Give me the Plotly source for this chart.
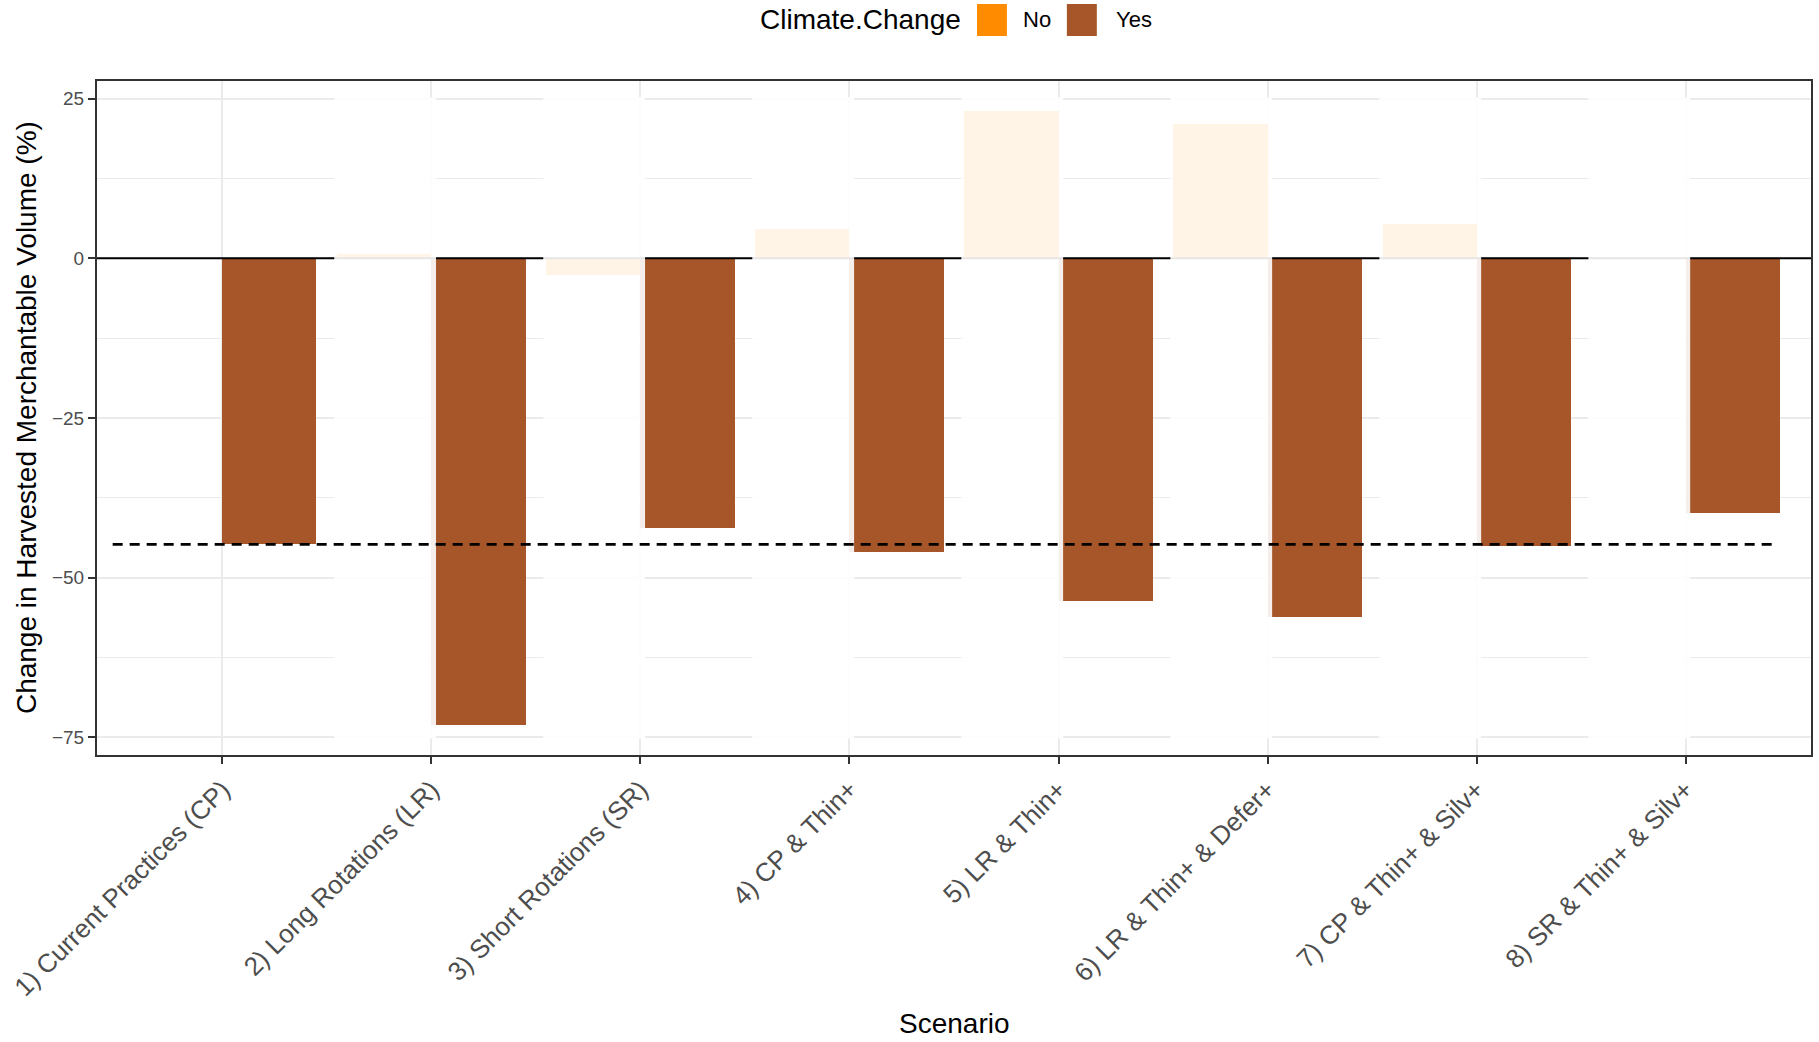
import plotly.graph_objects as go

# Scenario labels and change in harvested merchantable volume (%)
scenarios = [
    "1) Current Practices (CP)",
    "2) Long Rotations (LR)",
    "3) Short Rotations (SR)",
    "4) CP & Thin+",
    "5) LR & Thin+",
    "6) LR & Thin+ & Defer+",
    "7) CP & Thin+ & Silv+",
    "8) SR & Thin+ & Silv+",
]
change_no_cc = [0.0, 0.6, -2.7, 4.6, 23.1, 21.0, 5.4, 0.2]
change_cc = [-44.8, -73.1, -42.3, -46.0, -53.6, -56.1, -45.1, -39.9]

# Scenarios whose no-climate-change bar is washed out
faded = [False, True, True, True, True, True, True, True]
fade_band = [-75, 25]

y_ticks = [-75, -50, -25, 0, 25]
y_minor = [-62.5, -37.5, -12.5, 12.5]
legend_title = "Climate.Change"
legend_labels = ["No", "Yes"]

# Reference level: current practices under climate change
cp_cc_reference = change_cc[0]

COL_NO = "#FF8C00"
COL_YES = "#A65628"
FONT = "Liberation Sans, Arial, Helvetica, sans-serif"

W, H = 1819, 1042
L, R, T, B = 97, 6, 81, 287
PW, PH = W - L - R, H - T - B


def px_x(px):
    return (px - L) / PW


def px_y(py):
    return (H - B - py) / PH


xpos = list(range(1, len(scenarios) + 1))
bar_w = 0.45

fig = go.Figure()
fig.add_trace(go.Bar(x=xpos, y=change_no_cc, width=bar_w, offset=-bar_w,
                     marker=dict(color=COL_NO, line=dict(width=0)),
                     name=legend_labels[0], showlegend=False))
fig.add_trace(go.Bar(x=xpos, y=change_cc, width=bar_w, offset=0,
                     marker=dict(color=COL_YES, line=dict(width=0)),
                     name=legend_labels[1], showlegend=False))

shapes = []
# zero reference line
shapes.append(dict(type="line", xref="paper", yref="y", x0=0, x1=1, y0=0, y1=0,
                   line=dict(color="black", width=2), layer="above"))
# white wash over the no-climate-change slots
for xi, f in zip(xpos, faded):
    if f:
        shapes.append(dict(type="rect", xref="x", yref="y",
                           x0=xi - 0.465, x1=xi + 0.022,
                           y0=fade_band[0] - 0.2, y1=fade_band[1] + 0.2,
                           fillcolor="white", opacity=0.9,
                           line=dict(width=0), layer="above"))
# dashed reference at the CP climate-change level
shapes.append(dict(type="line", xref="x", yref="y",
                   x0=xpos[0] - 0.525, x1=xpos[-1] + 0.43,
                   y0=cp_cc_reference, y1=cp_cc_reference,
                   line=dict(color="black", width=2.6, dash="10px,7px"),
                   layer="above"))

# legend keys
key_cols = [COL_NO, COL_YES]
key_x = [978, 1068]
for kx, kc in zip(key_x, key_cols):
    shapes.append(dict(type="rect", xref="paper", yref="paper",
                       x0=px_x(kx), x1=px_x(kx + 30), y0=px_y(36), y1=px_y(4),
                       fillcolor=kc, line=dict(width=0)))

annotations = [
    dict(text=legend_title, xref="paper", yref="paper", x=px_x(759), y=px_y(20),
         xanchor="left", yanchor="middle", showarrow=False,
         font=dict(family=FONT, size=28, color="black")),
    dict(text=legend_labels[0], xref="paper", yref="paper", x=px_x(1022), y=px_y(20),
         xanchor="left", yanchor="middle", showarrow=False,
         font=dict(family=FONT, size=22, color="black")),
    dict(text=legend_labels[1], xref="paper", yref="paper", x=px_x(1115), y=px_y(20),
         xanchor="left", yanchor="middle", showarrow=False,
         font=dict(family=FONT, size=22, color="black")),
    dict(text="Scenario", xref="paper", yref="paper", x=0.5, y=px_y(1041),
         xanchor="center", yanchor="bottom", showarrow=False,
         font=dict(family=FONT, size=28, color="black")),
    dict(text="Change in Harvested Merchantable Volume (%)", xref="paper", yref="paper",
         x=px_x(26), y=0.5, xanchor="center", yanchor="middle", textangle=-90,
         showarrow=False, font=dict(family=FONT, size=28, color="black")),
]

fig.update_layout(
    width=W, height=H, autosize=False,
    margin=dict(l=L, r=R, t=T, b=B),
    paper_bgcolor="white", plot_bgcolor="white",
    barmode="overlay", bargap=0,
    shapes=shapes, annotations=annotations,
    showlegend=False,
    font=dict(family=FONT),
)

fig.update_xaxes(
    range=[0.4, 8.6], tickmode="array", tickvals=xpos, ticktext=scenarios,
    tickangle=-45, ticks="outside", ticklen=7, tickwidth=2, tickcolor="#333333",
    tickfont=dict(family=FONT, size=26, color="#4D4D4D"),
    showgrid=True, gridcolor="#EBEBEB", gridwidth=2.2,
    showline=True, linecolor="#333333", linewidth=2, mirror=True, zeroline=False,
)
fig.update_yaxes(
    range=[-77.77, 27.74], tickmode="array", tickvals=y_ticks,
    ticks="outside", ticklen=7, tickwidth=2, tickcolor="#333333",
    tickfont=dict(family=FONT, size=19, color="#4D4D4D"),
    showgrid=True, gridcolor="#EBEBEB", gridwidth=2.2,
    minor=dict(tickvals=y_minor, showgrid=True, gridcolor="#EBEBEB", gridwidth=1.2, ticks=""),
    showline=True, linecolor="#333333", linewidth=2, mirror=True, zeroline=False,
)

fig.write_html("out.html")
